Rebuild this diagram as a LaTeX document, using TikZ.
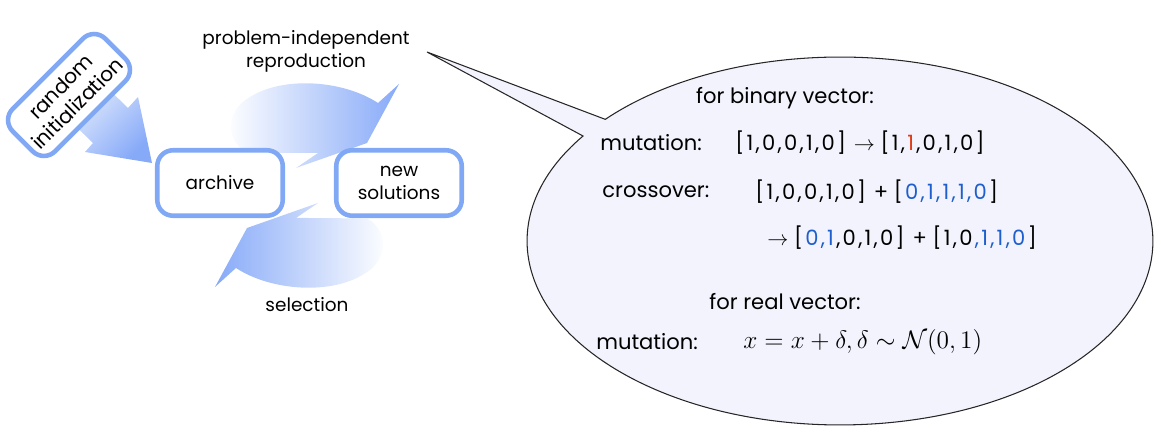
\documentclass[tikz,border=0pt]{standalone}
\usepackage{fontspec}
\setmainfont{Poppins}
\usetikzlibrary{calc}
\definecolor{boxblue}{RGB}{128,168,245}
\definecolor{arrblue}{RGB}{135,170,248}
\definecolor{bubfill}{RGB}{243,243,253}
\definecolor{vblue}{RGB}{30,95,205}
\definecolor{vred}{RGB}{225,60,25}
\def\sv#1{\svx#1\relax}
\def\svx#1{\ifx#1\relax\else#1\kern1.3pt\relax\expandafter\svx\fi}
\begin{document}
\begin{tikzpicture}[x=0.02cm,y=-0.02cm,
  box/.style={draw=boxblue, line width=2.6pt, fill=white, rounded corners=9pt,
    minimum width=2.51cm, minimum height=1.31cm, align=center, inner sep=2pt,
    font=\fontsize{10.5}{13}\selectfont},
  lbl/.style={font=\fontsize{10.5}{13}\selectfont, align=center, inner sep=0pt},
  btxt/.style={font=\fontsize{12}{14}\selectfont, anchor=west, inner sep=0pt},
  ctxt/.style={font=\fontsize{12}{14}\selectfont, inner sep=0pt},
  bubble/.style={fill=bubfill, draw=black!85, line width=0.6pt}]
\useasboundingbox (0,0) rectangle (1161,438);

% arrow from random initialization to archive
\shade[top color=arrblue!12, bottom color=arrblue, shading angle=45]
  (92,73) -- (128,108) -- (138,97) -- (152,163) -- (85,152) -- (93,143) -- (57,108) -- cycle;

% top circular arrow (reproduction)
\shade[left color=white, right color=arrblue]
  (246,152) .. controls (225,140) and (226,110) .. (250,97)
  .. controls (283,76) and (343,80) .. (378,103) -- (399,84) -- (367,143)
  -- (296,168) -- (318,153) .. controls (295,153) and (270,153) .. (246,152) -- cycle;

% bottom circular arrow (selection)
\shade[left color=arrblue, right color=white]
  (368,219) .. controls (389,231) and (388,261) .. (364,274)
  .. controls (331,295) and (271,291) .. (236,268) -- (215,287) -- (247,228)
  -- (318,203) -- (296,218) .. controls (319,218) and (344,218) .. (368,219) -- cycle;

% boxes
\node[box, rotate=45, minimum width=2.62cm, minimum height=1.2cm, inner sep=1pt,
  font=\fontsize{11.5}{13.5}\selectfont] (ri) at (69,95)
  {random\\initialization};
\node[box] (archive) at (220,183) {archive};
\node[box] (newsol) at (399,183) {new\\solutions};

% labels
\node[lbl] (repro) at (306,51) {problem-independent\\reproduction};
\node[lbl] (sel) at (307,305) {selection};

% speech bubble
\coordinate (c) at (840,241);
\coordinate (tip) at (427,52);
\path[bubble] (tip) -- ($(c)+(138.6:6.26cm and 3.68cm)$)
  arc[start angle=138.6, end angle=-214.8, x radius=6.26cm, y radius=3.68cm] -- cycle;

% bubble text
\node[ctxt] (fb) at (785,98) {for binary vector:};
\node[btxt] (m1) at (600,143) {mutation:};
\node[btxt] (m1v) at (735,143) {\sv{[1,0,0,1,0]} $\rightarrow$ \sv{[1,}\textcolor{vred}{\sv{1}}\sv{,0,1,0]}};
\node[btxt] (cr) at (602,192) {crossover:};
\node[btxt] (crv) at (755,192) {\sv{[1,0,0,1,0]} + \sv{[}\textcolor{vblue}{\sv{0,1,1,1,0}}\sv{]}};
\node[btxt] (crv2) at (767,238) {$\rightarrow$ \sv{[}\textcolor{vblue}{\sv{0,1}}\sv{,0,1,0]} + \sv{[1,0}\textcolor{vblue}{\sv{,1,1,0}}\sv{]}};
\node[ctxt] (fr) at (785,302) {for real vector:};
\node[btxt] (m2) at (596,342) {mutation:};
\node[btxt, font=\fontsize{15}{17}\selectfont] (m2v) at (743,342) {$x = x+\delta, \delta \sim \mathcal{N}(0,1)$};
\end{tikzpicture}
\end{document}
